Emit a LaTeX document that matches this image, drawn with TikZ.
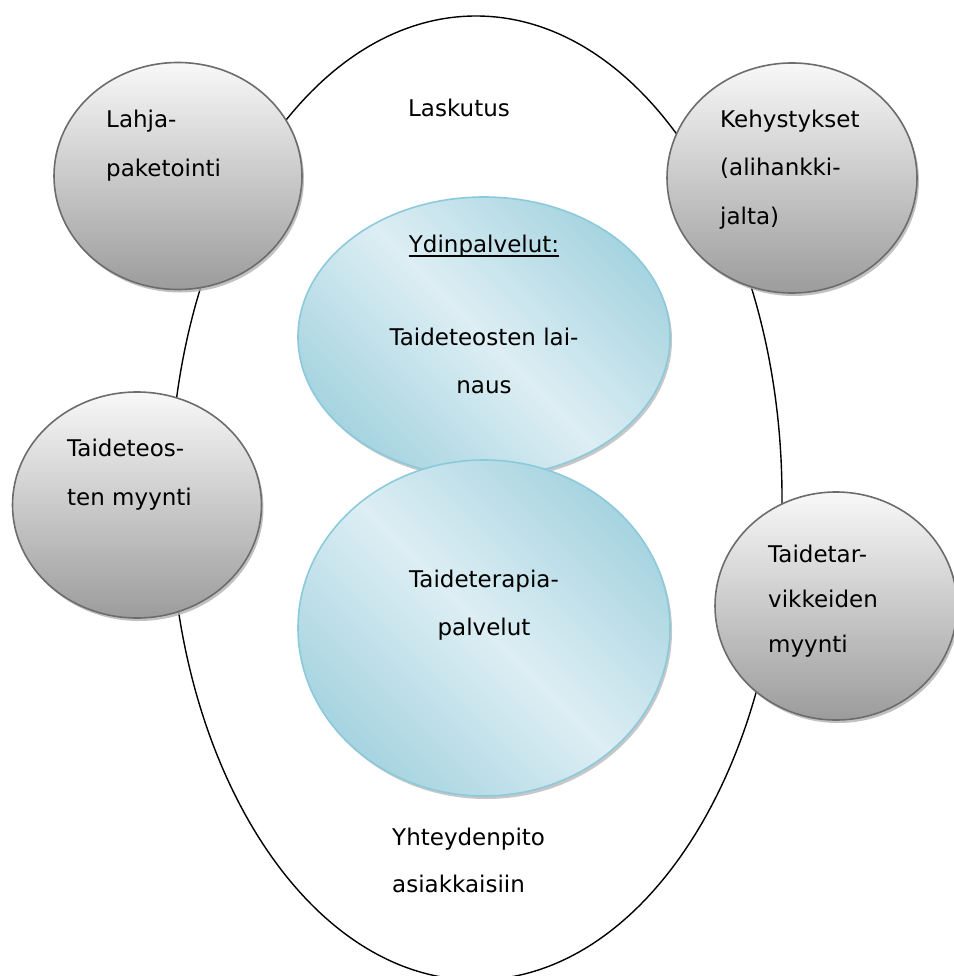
\documentclass[tikz,border=0pt]{standalone}
\usepackage{fontspec}
\setmainfont{DejaVu Sans}
\usetikzlibrary{shapes.geometric,shadows}

\definecolor{gborder}{HTML}{6C6C6C}
\definecolor{gtop}{HTML}{F8F8F8}
\definecolor{gmid}{HTML}{D6D6D6}
\definecolor{gbot}{HTML}{9C9C9C}
\definecolor{bborder}{HTML}{8CCADB}
\definecolor{bdark}{HTML}{A6D4E0}
\definecolor{blight}{HTML}{DDEEF4}

% diagonal sheen for the core-service discs
\pgfdeclarehorizontalshading{bluesheen}{100bp}{%
  color(0bp)=(bdark); color(25bp)=(bdark); color(50bp)=(blight);
  color(75bp)=(bdark); color(100bp)=(bdark)}

\begin{document}
\begin{tikzpicture}[x=1pt,y=-1pt,
  lbl/.style={inner sep=0pt, font=\fontsize{23}{28}\selectfont, text=black},
  graybub/.style={ellipse, draw=gborder, line width=1.6pt, inner sep=0pt,
    top color=gtop, middle color=gmid, bottom color=gbot,
    drop shadow={shadow xshift=2pt, shadow yshift=-3pt, fill=gray!60, opacity=0.8}},
  bluebub/.style={ellipse, draw=bborder, line width=1.6pt, inner sep=0pt,
    shading=bluesheen, shading angle=45,
    drop shadow={shadow xshift=2pt, shadow yshift=-3pt, fill=gray!55, opacity=0.8}}]
\useasboundingbox (0,0) rectangle (953,976);

% outer boundary of the service offering
\node[ellipse, draw=black, line width=1.4pt, inner sep=0pt,
      minimum width=612pt, minimum height=964pt] (outer) at (476,498) {};

% supporting services
\node[graybub, minimum width=248pt, minimum height=227pt] (lahja) at (178,176) {};
\node[graybub, minimum width=250pt, minimum height=230pt] (kehys) at (792,178) {};
\node[graybub, minimum width=249pt, minimum height=226pt] (myynti) at (137,505) {};
\node[graybub, minimum width=242pt, minimum height=228pt] (tarvike) at (836,606) {};

% core services
\node[bluebub, minimum width=372pt, minimum height=280pt] (laina) at (484,337) {};
\node[bluebub, minimum width=372pt, minimum height=336pt] (terapia) at (484,628) {};

% labels
\node[lbl, anchor=base] (lask) at (459,117) {Laskutus};

\node[lbl, anchor=base west] (lah1) at (106,128) {Lahja-};
\node[lbl, anchor=base west] (lah2) at (106,177) {paketointi};

\node[lbl, anchor=base west] (keh1) at (720,128) {Kehystykset};
\node[lbl, anchor=base west] (keh2) at (720,176) {(alihankki-};
\node[lbl, anchor=base west] (keh3) at (720,225) {jalta)};

\node[lbl, anchor=base west] (myy1) at (67,456) {Taideteos-};
\node[lbl, anchor=base west] (myy2) at (67,505) {ten myynti};

\node[lbl, anchor=base west] (tar1) at (768,562) {Taidetar-};
\node[lbl, anchor=base west] (tar2) at (768,607) {vikkeiden};
\node[lbl, anchor=base west] (tar3) at (768,652) {myynti};

\node[lbl, anchor=base] (ydin) at (484,252) {Ydinpalvelut:};
\draw[line width=1.3pt] ([yshift=-4pt]ydin.base west) -- ([yshift=-4pt]ydin.base east);
\node[lbl, anchor=base] (lai1) at (484,345) {Taideteosten lai-};
\node[lbl, anchor=base] (lai2) at (484,393) {naus};

\node[lbl, anchor=base] (ter1) at (484,587) {Taideterapia-};
\node[lbl, anchor=base] (ter2) at (484,635) {palvelut};

\node[lbl, anchor=base west] (yht1) at (392,845) {Yhteydenpito};
\node[lbl, anchor=base west] (yht2) at (392,892) {asiakkaisiin};
\end{tikzpicture}
\end{document}
